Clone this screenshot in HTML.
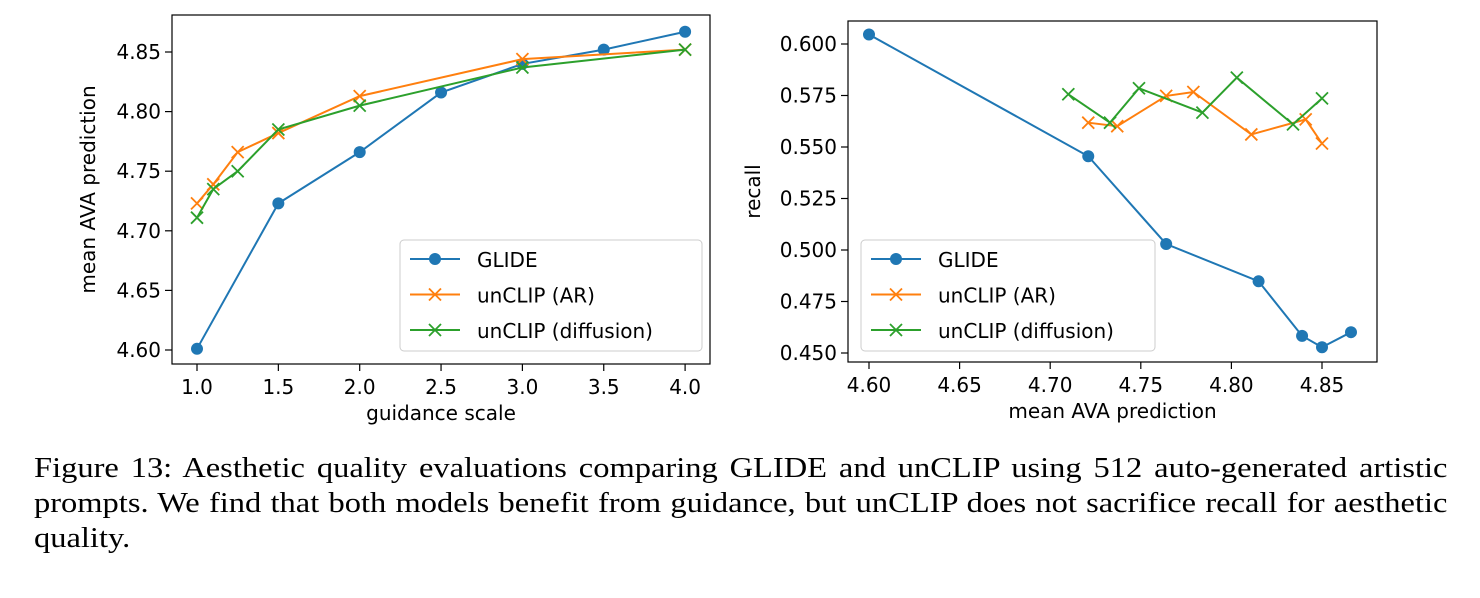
<!DOCTYPE html>
<html><head><meta charset="utf-8"><style>
body{margin:0;background:#fff;width:1480px;height:598px;overflow:hidden;position:relative}
svg{position:absolute;left:0;top:0}
text{font-family:"DejaVu Sans","Liberation Sans",sans-serif;fill:#000}
#cap{position:absolute;left:34px;top:451px;width:1262px;transform:scaleX(1.12);transform-origin:0 0;font-family:"Liberation Serif",serif;font-size:29px;line-height:35px;color:#000}
#cap div{white-space:nowrap}
#cap .j{text-align:justify;text-align-last:justify;white-space:normal}
</style></head><body>
<svg id="s" width="1480" height="598"></svg>
<div id="cap"><div class="j">Figure 13: Aesthetic quality evaluations comparing GLIDE and unCLIP using 512 auto-generated artistic</div><div class="j">prompts. We find that both models benefit from guidance, but unCLIP does not sacrifice recall for aesthetic</div><div>quality.</div></div>
<script>
// Left chart data
const guidanceGlide=[1,1.5,2,2.5,3,3.5,4];
const avaGlide=[4.601,4.723,4.766,4.816,4.840,4.852,4.867];
const guidanceAR=[1,1.1,1.25,1.5,2,3,4];
const avaAR=[4.723,4.739,4.766,4.782,4.813,4.844,4.852];
const guidanceDiff=[1,1.1,1.25,1.5,2,3,4];
const avaDiff=[4.711,4.735,4.750,4.785,4.805,4.837,4.852];
const leftXTicks=[1.0,1.5,2.0,2.5,3.0,3.5,4.0];
const leftYTicks=[4.60,4.65,4.70,4.75,4.80,4.85];
// Right chart data
const recallGlideX=[4.600,4.721,4.764,4.815,4.839,4.850,4.866];
const recallGlide=[0.6046,0.5455,0.5029,0.4848,0.4583,0.4528,0.4601];
const recallARX=[4.721,4.737,4.764,4.779,4.811,4.841,4.850];
const recallAR=[0.5618,0.5601,0.5748,0.5767,0.5561,0.5634,0.5517];
const recallDiffX=[4.710,4.733,4.749,4.784,4.803,4.834,4.850];
const recallDiff=[0.5756,0.5618,0.5785,0.5667,0.5837,0.5610,0.5736];
const rightXTicks=[4.60,4.65,4.70,4.75,4.80,4.85];
const rightYTicks=[0.450,0.475,0.500,0.525,0.550,0.575,0.600];
const seriesNames=["GLIDE","unCLIP (AR)","unCLIP (diffusion)"];

const NS="http://www.w3.org/2000/svg";
const svg=document.getElementById('s');
function mk(tag,attrs,parent){const e=document.createElementNS(NS,tag);for(const k in attrs)e.setAttribute(k,attrs[k]);(parent||svg).appendChild(e);return e;}
const C=["#1f77b4","#ff7f0e","#2ca02c"];

function marker(g,x,y,type,col){
  if(type==='o'){const m=mk('circle',{cx:x,cy:y,r:6,fill:col},g);
    
    }
  else{const m=mk('path',{d:`M${x-6},${y-6}L${x+6},${y+6}M${x-6},${y+6}L${x+6},${y-6}`,stroke:col,'stroke-width':1.8,fill:'none'},g);
    
    }
}
function chart(o){
  const g=mk('g',{});
  
  
  const X=v=>o.x0+(v-o.vx0)*o.kx, Y=v=>o.y0-(v-o.vy0)*o.ky;
  o.xt.forEach(t=>{const x=X(t);mk('line',{x1:x,x2:x,y1:o.B,y2:o.B+7,stroke:'#000','stroke-width':1.2},g);
    const tx=mk('text',{x:x,y:o.B+30,'font-size':20,'text-anchor':'middle'},g);tx.textContent=t.toFixed(o.xd);
    
    });
  o.yt.forEach(t=>{const y=Y(t);mk('line',{x1:o.L-7,x2:o.L,y1:y,y2:y,stroke:'#000','stroke-width':1.2},g);
    const tx=mk('text',{x:o.L-11,y:y+7,'font-size':20,'text-anchor':'end'},g);tx.textContent=t.toFixed(o.yd);
    
    });
  o.series.forEach((s,i)=>{
    const sg=mk('g',{},g);
    
    
    mk('polyline',{points:s.xs.map((v,j)=>X(v)+','+Y(s.ys[j])).join(' '),fill:'none',stroke:C[i],'stroke-width':2},sg);
    s.xs.forEach((v,j)=>marker(sg,X(v),Y(s.ys[j]),i==0?'o':'x',C[i]));
  });
  const fr=mk('rect',{x:o.L,y:o.T,width:o.R-o.L,height:o.B-o.T,fill:'none',stroke:'#000','stroke-width':1.2},g);
  
  
  const xt=mk('text',{x:(o.L+o.R)/2,y:o.B+56,'font-size':20,'text-anchor':'middle'},g);xt.textContent=o.xl;
  
  
  const yt=mk('text',{x:0,y:0,'font-size':20,'text-anchor':'middle',transform:`translate(${o.yx},${(o.T+o.B)/2}) rotate(-90)`},g);yt.textContent=o.yl;
  
  
  const lg=mk('g',{},g);
  
  
  mk('rect',{x:o.lx,y:240,width:o.lw,height:111,rx:4,fill:'#fff','fill-opacity':0.8,stroke:'#ccc','stroke-width':1},lg);
  seriesNames.forEach((n,i)=>{const y=259+i*35.5;
    const eg=mk('g',{},lg);
    
    
    mk('line',{x1:o.lx+10,x2:o.lx+60,y1:y,y2:y,stroke:C[i],'stroke-width':2},eg);
    marker(eg,o.lx+35,y,i==0?'o':'x',C[i]);
    const t=mk('text',{x:o.lx+77,y:y+8,'font-size':20},eg);t.textContent=n;});
}
chart({name:'left-chart',L:172,R:710,T:15,B:364,x0:197,vx0:1,kx:162.7,y0:350,vy0:4.60,ky:1192,
  xt:leftXTicks,yt:leftYTicks,xd:1,yd:2,xl:'guidance scale',yl:'mean AVA prediction',yx:95,lx:400,lw:302,
  series:[{key:'glide',xs:guidanceGlide,ys:avaGlide},{key:'unclip-ar',xs:guidanceAR,ys:avaAR},{key:'unclip-diffusion',xs:guidanceDiff,ys:avaDiff}]});
chart({name:'right-chart',L:848,R:1377,T:21,B:362,x0:869,vx0:4.60,kx:1812,y0:353,vy0:0.45,ky:2060,
  xt:rightXTicks,yt:rightYTicks,xd:2,yd:3,xl:'mean AVA prediction',yl:'recall',yx:760,lx:861,lw:294,
  series:[{key:'glide',xs:recallGlideX,ys:recallGlide},{key:'unclip-ar',xs:recallARX,ys:recallAR},{key:'unclip-diffusion',xs:recallDiffX,ys:recallDiff}]});
</script>
</body></html>
